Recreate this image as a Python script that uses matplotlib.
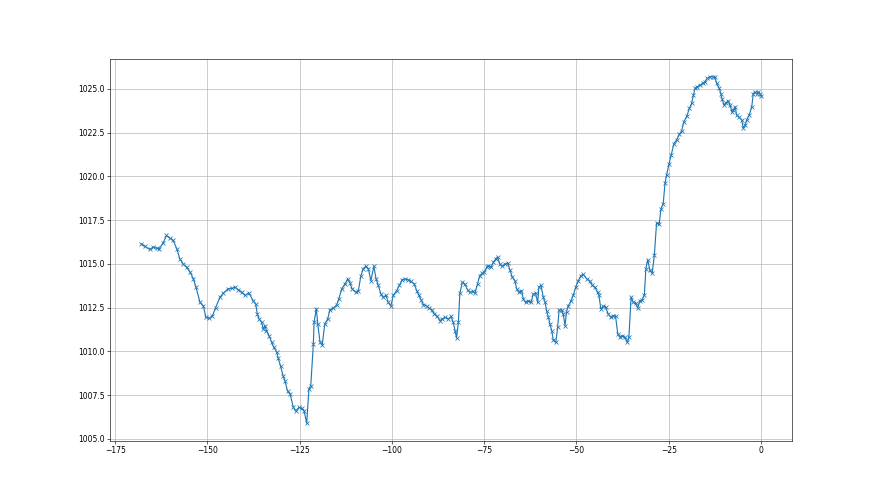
import matplotlib
matplotlib.use("Agg")
import matplotlib.pyplot as plt

# hours relative to now
hours = [
    -168.0, -166.9, -165.6, -164.7, -163.8, -163.1, -162.0, -161.1, -160.2, -159.3,
    -158.3, -157.5, -156.6, -155.6, -154.7, -153.8, -153.1, -152.0, -151.1, -150.4,
    -149.6, -148.7, -147.8, -146.6, -145.7, -144.4, -143.4, -142.5, -141.7, -140.7,
    -139.8, -138.8, -137.6, -136.9, -136.5, -136.0, -135.3, -134.9, -134.4, -134.0,
    -133.3, -132.6, -132.0, -131.2, -130.8, -130.2, -129.5, -129.0, -128.3, -127.6,
    -126.7, -126.1, -125.2, -124.5, -123.8, -123.1, -122.5, -122.0, -121.3, -121.1,
    -120.5, -120.1, -119.5, -118.9, -118.2, -117.4, -116.8, -115.9, -115.0, -114.4,
    -113.6, -112.7, -112.0, -111.4, -110.8, -109.8, -109.1, -108.4, -107.8, -107.1,
    -106.4, -105.7, -104.9, -104.3, -103.7, -103.0, -102.4, -101.6, -101.0, -100.3,
    -99.6, -98.7, -98.0, -97.2, -96.5, -95.6, -94.9, -94.0, -93.3, -92.7,
    -92.1, -91.5, -90.6, -90.0, -89.2, -88.5, -87.9, -87.0, -86.4, -85.6,
    -84.7, -84.0, -83.4, -82.9, -82.5, -82.0, -81.6, -80.9, -80.2, -79.5,
    -78.9, -78.1, -77.5, -76.8, -76.2, -75.5, -75.0, -74.3, -73.9, -73.2,
    -72.5, -71.9, -71.4, -70.7, -70.1, -69.4, -68.6, -68.0, -67.4, -66.7,
    -66.2, -65.6, -64.9, -64.4, -63.8, -63.1, -62.3, -61.7, -61.1, -60.5,
    -60.2, -59.6, -59.0, -58.5, -58.1, -57.6, -57.2, -56.7, -56.3, -55.6,
    -55.1, -54.7, -54.0, -53.6, -53.1, -52.7, -52.2, -51.5, -50.9, -50.2,
    -49.5, -48.8, -48.2, -47.2, -46.3, -45.7, -45.0, -44.3, -43.9, -43.4,
    -42.7, -42.1, -41.4, -40.7, -40.0, -39.4, -38.8, -38.2, -37.6, -36.9,
    -36.2, -35.8, -35.2, -34.6, -34.0, -33.4, -32.8, -32.2, -31.6, -31.2,
    -30.7, -30.1, -29.5, -28.9, -28.3, -27.6, -27.1, -26.5, -26.0, -25.6,
    -24.9, -24.3, -23.6, -22.8, -22.1, -21.5, -20.9, -20.1, -19.4, -18.8,
    -18.3, -17.9, -17.3, -16.5, -15.8, -15.2, -14.6, -13.8, -13.1, -12.5,
    -12.0, -11.3, -10.9, -10.6, -10.0, -9.5, -8.9, -8.4, -7.9, -7.5,
    -7.0, -6.6, -5.9, -5.2, -4.8, -4.3, -3.9, -3.2, -2.5, -2.1,
    -1.6, -1.2, -0.7, -0.3, 0.0,
]

# pressure in hPa
pressure = [
    1016.16, 1016.00, 1015.83, 1015.96, 1015.90, 1015.87, 1016.20, 1016.63, 1016.48, 1016.35,
    1015.87, 1015.30, 1015.00, 1014.80, 1014.53, 1014.15, 1013.67, 1012.80, 1012.60, 1011.95,
    1011.90, 1012.00, 1012.50, 1013.10, 1013.33, 1013.58, 1013.60, 1013.67, 1013.54, 1013.38,
    1013.20, 1013.35, 1012.90, 1012.70, 1012.14, 1011.86, 1011.67, 1011.29, 1011.48, 1011.19,
    1010.90, 1010.52, 1010.23, 1009.95, 1009.60, 1009.18, 1008.61, 1008.32, 1007.75, 1007.56,
    1006.80, 1006.60, 1006.80, 1006.75, 1006.60, 1005.90, 1007.85, 1008.04, 1010.43, 1011.67,
    1012.45, 1011.57, 1010.55, 1010.37, 1011.57, 1011.86, 1012.39, 1012.47, 1012.66, 1013.00,
    1013.58, 1013.87, 1014.15, 1013.93, 1013.58, 1013.38, 1013.48, 1014.34, 1014.72, 1014.87,
    1014.72, 1014.05, 1014.87, 1014.15, 1013.77, 1013.29, 1013.10, 1013.20, 1012.80, 1012.60,
    1013.23, 1013.48, 1013.77, 1014.11, 1014.15, 1014.10, 1014.00, 1013.87, 1013.48, 1013.20,
    1012.95, 1012.68, 1012.60, 1012.49, 1012.37, 1012.14, 1012.05, 1011.76, 1011.86, 1011.95,
    1011.86, 1012.00, 1011.67, 1011.19, 1010.77, 1011.67, 1013.33, 1013.96, 1013.83, 1013.52,
    1013.38, 1013.44, 1013.33, 1013.87, 1014.34, 1014.47, 1014.53, 1014.81, 1014.91, 1014.81,
    1015.10, 1015.29, 1015.39, 1014.97, 1014.86, 1015.00, 1015.04, 1014.63, 1014.25, 1014.05,
    1013.58, 1013.38, 1013.48, 1013.00, 1012.80, 1012.90, 1012.80, 1013.29, 1013.33, 1012.80,
    1013.67, 1013.77, 1013.10, 1012.80, 1012.33, 1011.95, 1011.57, 1011.19, 1010.66, 1010.52,
    1011.38, 1012.37, 1012.37, 1012.14, 1011.48, 1012.26, 1012.62, 1012.87, 1013.20, 1013.67,
    1014.05, 1014.34, 1014.40, 1014.15, 1014.00, 1013.77, 1013.67, 1013.38, 1013.20, 1012.43,
    1012.60, 1012.53, 1012.14, 1011.95, 1012.05, 1012.00, 1011.00, 1010.81, 1010.90, 1010.81,
    1010.52, 1010.81, 1013.10, 1012.80, 1012.75, 1012.49, 1012.90, 1012.95, 1013.25, 1014.72,
    1015.24, 1014.63, 1014.47, 1015.49, 1017.34, 1017.26, 1018.16, 1018.44, 1019.63, 1020.07,
    1020.74, 1021.25, 1021.88, 1022.11, 1022.42, 1022.61, 1023.13, 1023.45, 1023.89, 1024.17,
    1024.65, 1025.03, 1025.13, 1025.22, 1025.32, 1025.41, 1025.60, 1025.70, 1025.70, 1025.66,
    1025.32, 1025.03, 1024.74, 1024.45, 1024.08, 1024.21, 1024.32, 1024.08, 1023.70, 1023.80,
    1023.99, 1023.51, 1023.38, 1023.22, 1022.75, 1022.94, 1023.22, 1023.51, 1023.99, 1024.74,
    1024.83, 1024.74, 1024.83, 1024.74, 1024.60,
]


def main():
    fig, ax = plt.subplots(figsize=(16, 9), dpi=55)
    ax.plot(hours, pressure, marker="x")
    ax.grid()
    plt.savefig("out.png")


if __name__ == "__main__":
    main()
